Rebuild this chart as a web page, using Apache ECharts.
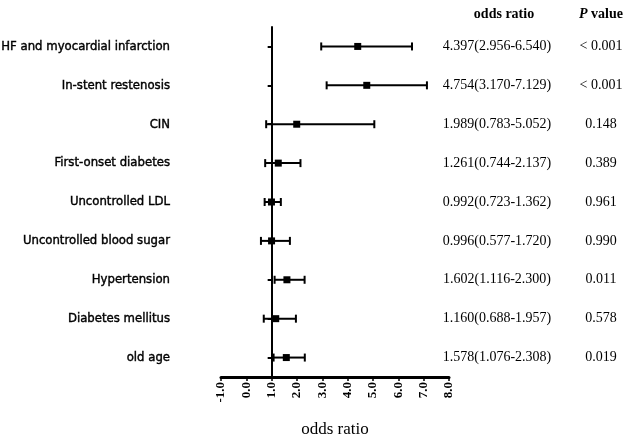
<!DOCTYPE html>
<html>
<head>
<meta charset="utf-8">
<script src="https://cdn.jsdelivr.net/npm/echarts@6/dist/echarts.min.js"></script>
<style>
html, body { margin: 0; padding: 0; background: #fff; }
#chart { width: 629px; height: 439px; }
</style>
</head>
<body>
<div id="chart"></div>
<script>
// 变量名
var factors = ['HF and myocardial infarction', 'In-stent restenosis', 'CIN', 'First-onset diabetes',
	'Uncontrolled LDL', 'Uncontrolled blood sugar', 'Hypertension', 'Diabetes mellitus', 'old age'];
var oddsRatio = [4.397, 4.754, 1.989, 1.261, 0.992, 0.996, 1.602, 1.160, 1.578];
var ciLow = [2.956, 3.170, 0.783, 0.744, 0.723, 0.577, 1.116, 0.688, 1.076];
var ciHigh = [6.540, 7.129, 5.052, 2.137, 1.362, 1.720, 2.300, 1.957, 2.308];
var pValues = ['< 0.001', '< 0.001', '0.148', '0.389', '0.961', '0.990', '0.011', '0.578', '0.019'];
var xTicks = [-1, 0, 1, 2, 3, 4, 5, 6, 7, 8];

var serif = '"Liberation Serif", "Times New Roman", serif';
var narrow = '"DejaVu Sans Condensed", "Liberation Sans", sans-serif';

// 表格文字 OR(95%CI)
var orText = [];
var rows = [];
for(var i = 0; i < factors.length; i++) {
	orText.push(oddsRatio[i].toFixed(3) + '(' + ciLow[i].toFixed(3) + '-' + ciHigh[i].toFixed(3) + ')');
	rows.push([ciLow[i], ciHigh[i], oddsRatio[i], i]);
}

var gridLeft = 221, gridRight = 180;
var gridW = 629 - gridLeft - gridRight;
// y轴放在 x = 1.0 处
var refOffset = -gridW * (1 - xTicks[0]) / (xTicks[xTicks.length - 1] - xTicks[0]);

var renderForest = function(params, api) {
	var y = api.value(3);
	var pLo = api.coord([api.value(0), y]);
	var pHi = api.coord([api.value(1), y]);
	var pMid = api.coord([api.value(2), y]);
	var cap = 4, sq = 3.5;
	var ls = { stroke: '#000', lineWidth: 2 };
	return {
		type: 'group',
		children: [
			{ type: 'line', shape: { x1: pLo[0], y1: pLo[1], x2: pHi[0], y2: pHi[1] }, style: ls },
			{ type: 'line', shape: { x1: pLo[0], y1: pLo[1] - cap, x2: pLo[0], y2: pLo[1] + cap }, style: ls },
			{ type: 'line', shape: { x1: pHi[0], y1: pHi[1] - cap, x2: pHi[0], y2: pHi[1] + cap }, style: ls },
			{ type: 'rect', shape: { x: pMid[0] - sq, y: pMid[1] - sq, width: sq * 2, height: sq * 2 }, style: { fill: '#000' } }
		]
	};
};

var chart = echarts.init(document.getElementById('chart'));
chart.setOption({
	animation: false,
	backgroundColor: '#fff',
	grid: { left: gridLeft, right: gridRight, top: 27, bottom: 62, containLabel: false, outerBoundsMode: 'none' },
	xAxis: {
		type: 'value',
		min: xTicks[0],
		max: xTicks[xTicks.length - 1],
		interval: 1,
		splitLine: { show: false },
		axisLine: { show: true, onZero: false, lineStyle: { color: '#000', width: 3 } },
		axisTick: { show: true, length: 4, lineStyle: { color: '#000', width: 1.5 } },
		axisLabel: {
			rotate: 90, margin: 5, color: '#000', fontFamily: serif, fontSize: 13, fontWeight: 'bold',
			formatter: function(v) { return v.toFixed(1); }
		},
		name: 'odds ratio',
		nameLocation: 'middle',
		nameGap: 44,
		nameTextStyle: { color: '#000', fontFamily: serif, fontSize: 17 }
	},
	yAxis: [{
		type: 'category',
		data: factors,
		inverse: true,
		axisLine: { show: false },
		axisTick: { show: false },
		axisLabel: {
			color: '#000', fontFamily: narrow, fontSize: 13, margin: 51,
			textBorderColor: '#000', textBorderWidth: 0.4
		}
	}, {
		// x = 1.0 参考线
		type: 'category',
		data: factors,
		inverse: true,
		position: 'left',
		offset: refOffset,
		axisLine: { show: true, lineStyle: { color: '#000', width: 2 } },
		axisTick: { show: true, alignWithLabel: true, length: 4, lineStyle: { color: '#000', width: 2 } },
		axisLabel: { show: false }
	}, {
		type: 'category',
		data: orText,
		inverse: true,
		position: 'right',
		offset: 48,
		axisLine: { show: false },
		axisTick: { show: false },
		axisLabel: { margin: 0, align: 'center', color: '#000', fontFamily: serif, fontSize: 14 },
		name: 'odds ratio',
		nameLocation: 'start',
		nameGap: 6,
		nameTextStyle: { color: '#000', fontFamily: serif, fontSize: 14, fontWeight: 'bold', align: 'center', padding: [0, 0, 0, 14] }
	}, {
		type: 'category',
		data: pValues,
		inverse: true,
		position: 'right',
		offset: 152,
		axisLine: { show: false },
		axisTick: { show: false },
		axisLabel: { margin: 0, align: 'center', color: '#000', fontFamily: serif, fontSize: 14 },
		name: '{i|P} value',
		nameLocation: 'start',
		nameGap: 6,
		nameTextStyle: {
			color: '#000', fontFamily: serif, fontSize: 14, fontWeight: 'bold', align: 'center',
			rich: { i: { fontStyle: 'italic', fontWeight: 'bold', fontFamily: serif, fontSize: 14, color: '#000' } }
		}
	}],
	series: [{
		type: 'custom',
		renderItem: renderForest,
		encode: { x: [0, 1, 2], y: 3 },
		data: rows,
		z: 5
	}]
});
</script>
</body>
</html>
